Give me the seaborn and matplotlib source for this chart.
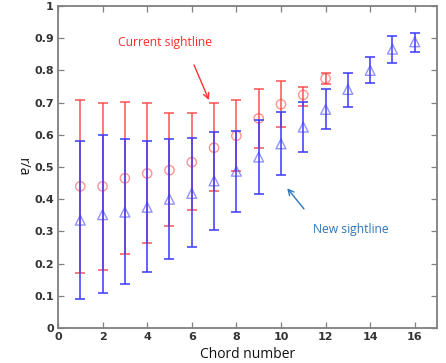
import numpy as np
import pandas as pd
import matplotlib
matplotlib.use("Agg")
import matplotlib.pyplot as plt
import seaborn as sns

# Current sightline (red circles), chords 1..12
cur_chord = [1, 2, 3, 4, 5, 6, 7, 8, 9, 10, 11, 12]
cur_val = [0.44, 0.44, 0.465, 0.48, 0.49, 0.515, 0.56, 0.597, 0.651, 0.695, 0.724, 0.775]
cur_low = [0.17, 0.18, 0.23, 0.265, 0.318, 0.365, 0.425, 0.489, 0.558, 0.625, 0.69, 0.758]
cur_up = [0.708, 0.70, 0.703, 0.70, 0.667, 0.667, 0.70, 0.708, 0.741, 0.766, 0.75, 0.792]

# New sightline (blue triangles), chords 1..16
new_chord = list(range(1, 17))
new_val = [0.335, 0.352, 0.36, 0.375, 0.40, 0.418, 0.457, 0.487, 0.531, 0.572,
           0.624, 0.679, 0.741, 0.80, 0.866, 0.889]
new_low = [0.09, 0.108, 0.137, 0.173, 0.213, 0.251, 0.305, 0.36, 0.416, 0.475,
           0.547, 0.617, 0.685, 0.76, 0.824, 0.857]
new_up = [0.58, 0.598, 0.588, 0.582, 0.588, 0.59, 0.608, 0.613, 0.645, 0.67,
          0.703, 0.741, 0.793, 0.843, 0.907, 0.917]

x_ticks = [0, 2, 4, 6, 8, 10, 12, 14, 16]
y_ticks = [0, 0.1, 0.2, 0.3, 0.4, 0.5, 0.6, 0.7, 0.8, 0.9, 1]
y_tick_labels = ["0", "0.1", "0.2", "0.3", "0.4", "0.5", "0.6", "0.7", "0.8", "0.9", "1"]

cur_df = pd.DataFrame({"chord": cur_chord, "val": cur_val, "low": cur_low, "up": cur_up})
new_df = pd.DataFrame({"chord": new_chord, "val": new_val, "low": new_low, "up": new_up})

sns.set_style("white")

fig = plt.figure(figsize=(4.46, 3.63), dpi=100)
ax = fig.add_axes([0.130, 0.0964, 0.850, 0.887])

red = "#ff3b3b"
blue = "#3a3aff"

# Red error bars + markers
ax.errorbar(cur_df["chord"], cur_df["val"],
            yerr=[cur_df["val"] - cur_df["low"], cur_df["up"] - cur_df["val"]],
            fmt="none", ecolor=red, elinewidth=1.3, capsize=3.5, capthick=1.3,
            alpha=0.75, zorder=2)
sns.scatterplot(data=cur_df, x="chord", y="val", marker="o", s=45,
                facecolors="none", edgecolor=red, linewidth=1.0, alpha=0.55,
                ax=ax, zorder=3, legend=False)

# Blue error bars + markers
ax.errorbar(new_df["chord"], new_df["val"],
            yerr=[new_df["val"] - new_df["low"], new_df["up"] - new_df["val"]],
            fmt="none", ecolor=blue, elinewidth=1.3, capsize=3.5, capthick=1.3,
            alpha=0.85, zorder=4)
sns.scatterplot(data=new_df, x="chord", y="val", marker="^", s=50,
                facecolors="none", edgecolor=blue, linewidth=1.0, alpha=0.55,
                ax=ax, zorder=5, legend=False)

ax.set_xlim(0, 17)
ax.set_ylim(0, 1)
ax.set_xticks(x_ticks)
ax.set_xticklabels([str(t) for t in x_ticks])
ax.set_yticks(y_ticks)
ax.set_yticklabels(y_tick_labels)

for sp in ax.spines.values():
    sp.set_visible(True)
    sp.set_color("#7f7f7f")
    sp.set_linewidth(1.3)

ax.tick_params(axis="both", which="both", direction="in", length=4, width=0.9,
               color="#7f7f7f", top=True, right=True, bottom=True, left=True,
               labelsize=8, labelcolor="#333333", pad=3)
for lab in ax.get_xticklabels() + ax.get_yticklabels():
    lab.set_fontweight("bold")

ax.set_xlabel("Chord number", fontsize=10, color="#111111",
              family="Open Sans", va="top")
ax.set_ylabel("r/a", fontsize=10, color="#111111",
              family="Open Sans", rotation=270, va="center")
ax.yaxis.set_label_coords(-0.095, 0.5)
ax.xaxis.set_label_coords(0.5, -0.058)

ax.annotate("", xy=(6.77, 0.708), xytext=(6.1, 0.817),
            arrowprops=dict(arrowstyle="->", color="#ff3333", lw=1.0,
                            shrinkA=0, shrinkB=0))
ax.text(4.78, 0.888, "Current sightline", color="#ff2a2a", fontsize=8.7,
        ha="center", va="center", family="Open Sans")

ax.annotate("", xy=(10.28, 0.434), xytext=(11.03, 0.37),
            arrowprops=dict(arrowstyle="->", color="#2e75b6", lw=1.0,
                            shrinkA=0, shrinkB=0))
ax.text(13.14, 0.307, "New sightline", color="#2e75b6", fontsize=8.7,
        ha="center", va="center", family="Open Sans")

fig.savefig("out.png", dpi=100)
